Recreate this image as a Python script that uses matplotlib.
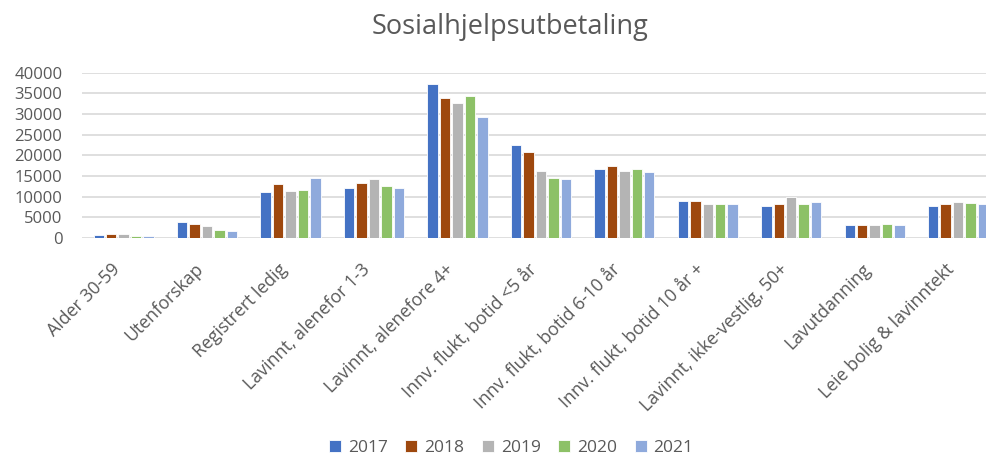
import matplotlib.pyplot as plt
import numpy as np

plt.rcParams['font.family'] = ['Open Sans', 'DejaVu Sans']

kategorier = ['Alder 30-59', 'Utenforskap', 'Registrert ledig', 'Lavinnt, alenefor 1-3',
              'Lavinnt, alenefore 4+', 'Innv. flukt, botid <5 år', 'Innv. flukt, botid 6-10 år',
              'Innv. flukt, botid 10 år +', 'Lavinnt, ikke-vestlig, 50+', 'Lavutdanning',
              'Leie bolig & lavinntekt']
aar = ['2017', '2018', '2019', '2020', '2021']

v2017 = [800, 3800, 11200, 12200, 37200, 22500, 16700, 9000, 7800, 3200, 7800]
v2018 = [950, 3500, 13100, 13300, 33800, 20700, 17500, 9000, 8300, 3200, 8300]
v2019 = [900, 2900, 11400, 14400, 32600, 16100, 16200, 8200, 9900, 3200, 8600]
v2020 = [550, 1900, 11600, 12500, 34500, 14600, 16700, 8300, 8300, 3500, 8500]
v2021 = [450, 1700, 14500, 12200, 29400, 14400, 15900, 8200, 8600, 3200, 8200]
serier = [v2017, v2018, v2019, v2020, v2021]

farger = ['#4472C4', '#9E480E', '#B4B4B4', '#8DC167', '#8FAADC']

fig = plt.figure(figsize=(9.87, 4.55), dpi=100)
ax = fig.add_axes([0.083, 0.477, 0.930, 0.363])

x = np.arange(len(kategorier))
slot = 0.149
for i, (navn, verdier) in enumerate(zip(aar, serier)):
    ax.bar(x + (i - 2) * slot, verdier, width=0.125, color=farger[i],
           edgecolor='white', linewidth=0.6, label=navn, zorder=3)

ax.set_xlim(-0.5, len(kategorier) - 0.5)
ax.set_ylim(0, 40000)
ax.set_yticks(np.arange(0, 40001, 5000))
ax.yaxis.grid(True, color='#D9D9D9', linewidth=1.2, zorder=0)
for s in ax.spines.values():
    s.set_visible(False)
ax.tick_params(axis='both', length=0, colors='#595959', labelsize=12)
ax.tick_params(axis='y', pad=14)
ax.tick_params(axis='x', pad=16)
ax.set_xticks(x)
ax.set_xticklabels(kategorier, rotation=45, ha='right', va='top', fontsize=12.8)

fig.text(0.517, 0.94, 'Sosialhjelpsutbetaling', ha='center', va='center',
         fontsize=19.5, color='#595959')

leg = fig.legend(loc='center', bbox_to_anchor=(0.518, 0.016), ncol=5, frameon=False,
                 fontsize=12.5, handlelength=0.7, handleheight=0.7, columnspacing=1.0,
                 handletextpad=0.4)
for t in leg.get_texts():
    t.set_color('#595959')

fig.savefig('out.png', dpi=100)
